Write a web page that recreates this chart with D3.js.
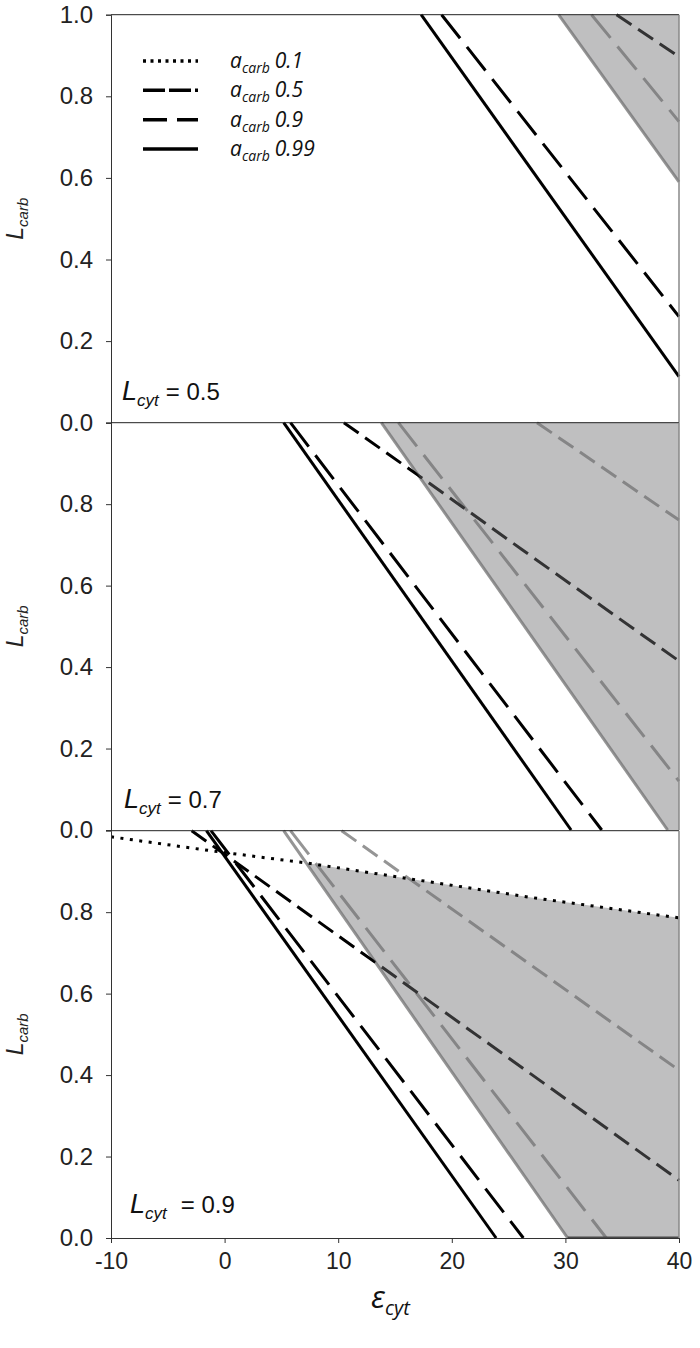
<!DOCTYPE html>
<html><head><meta charset="utf-8">
<script src="https://cdn.jsdelivr.net/npm/d3@7"></script>
<style>body{margin:0;background:#fff} svg{display:block}</style>
</head><body>
<svg id="c" width="700" height="1348"></svg>
<script>
// ---------- data ----------
const xTicks = [-10, 0, 10, 20, 30, 40];
const yTicksTop = [0, 0.2, 0.4, 0.6, 0.8, 1.0];
const yTicksLower = [0, 0.2, 0.4, 0.6, 0.8];
const lcytLabels = ["0.5", "0.7", "0.9"];
const legendLabels = ["0.1", "0.5", "0.9", "0.99"];

// Lcyt = 0.5
const p1Black099 = [[17.3, 1], [40, 0.113]];
const p1Black09  = [[19.1, 1], [40, 0.26]];
const p1Black05  = [[34.5, 1], [40, 0.897]];
const p1Gray099  = [[29.4, 1], [40, 0.59]];
const p1Gray09   = [[32.3, 1], [40, 0.738]];
const p1Shade    = [[29.4, 1], [40, 1], [40, 0.59]];

// Lcyt = 0.7
const p2Black099 = [[5.2, 1], [30.5, 0]];
const p2Black09  = [[5.8, 1], [33.2, 0]];
const p2Black05  = [[10.5, 1], [18, 0.852], [26.2, 0.688], [40, 0.415]];
const p2Gray099  = [[13.8, 1], [39.0, 0]];
const p2Gray09   = [[15.3, 1], [40, 0.12]];
const p2Gray05   = [[27.5, 1], [40, 0.761]];
const p2Shade    = [[13.8, 1], [40, 1], [40, 0], [39.0, 0]];

// Lcyt = 0.9
const p3Black01  = [[-10, 0.985], [-1, 0.95], [7.4, 0.92], [27, 0.836], [40, 0.786]];
const p3Black099 = [[-1.6, 1], [23.9, 0]];
const p3Black09  = [[-1.2, 1], [26.3, 0]];
const p3Black05  = [[-2.9, 1], [40, 0.142]];
const p3Gray099  = [[5.2, 1], [30.2, 0]];
const p3Gray09   = [[5.8, 1], [33.6, 0]];
const p3Gray05   = [[10.3, 1], [40, 0.412]];
const p3Shade    = [[7.2, 0.921], [27, 0.836], [40, 0.786], [40, 0], [30.2, 0]];
const p3Floor    = [[30.2, 0], [40, 0]];

// ---------- styles ----------
const dash = {s01: "3,6.5", s05: "18,8", s09: "30,11", s099: null};
const legendDash = {s01: "3,4.5", s05: "22,4", s09: "24,10", s099: null};
const BLACK = "#000", GRAY = "#959595";
const SANS = "'Liberation Sans', Arial, sans-serif";

const panels = [
  {label: lcytLabels[0], top: 14.7, bottom: 422.7, yTicks: yTicksTop,
   lines: [[p1Gray099, GRAY, "s099"], [p1Gray09, GRAY, "s09"],
           [p1Black099, BLACK, "s099"], [p1Black09, BLACK, "s09"], [p1Black05, BLACK, "s05"]],
   shade: p1Shade, over: [], lx: 122, ly: 400},
  {label: lcytLabels[1], top: 422.7, bottom: 830, yTicks: yTicksLower,
   lines: [[p2Gray099, GRAY, "s099"], [p2Gray09, GRAY, "s09"], [p2Gray05, GRAY, "s05"],
           [p2Black099, BLACK, "s099"], [p2Black09, BLACK, "s09"], [p2Black05, BLACK, "s05"]],
   shade: p2Shade, over: [], lx: 124, ly: 808},
  {label: lcytLabels[2], top: 830.7, bottom: 1238, yTicks: yTicksLower,
   lines: [[p3Gray099, GRAY, "s099"], [p3Gray09, GRAY, "s09"], [p3Gray05, GRAY, "s05"],
           [p3Black099, BLACK, "s099"], [p3Black09, BLACK, "s09"], [p3Black05, BLACK, "s05"]],
   shade: p3Shade, over: [[p3Black01, BLACK, "s01"], [p3Floor, "#4a4a4a", "floor"]], lx: 130, ly: 1213}
];

const svg = d3.select("#c");
const x = d3.scaleLinear().domain([-10, 40]).range([111, 679]);
const AX = 111, RX = 679;

panels.forEach((p, i) => {
  const y = d3.scaleLinear().domain([0, 1]).range([p.bottom, p.top]);
  const g = svg.append("g");
  const line = d3.line().x(d => x(d[0])).y(d => y(d[1]));
  const clipId = "clip" + i;
  svg.append("clipPath").attr("id", clipId).append("rect")
    .attr("x", AX).attr("y", p.top - 2).attr("width", RX - AX + 2).attr("height", p.bottom - p.top + 3);
  const inner = g.append("g").attr("clip-path", `url(#${clipId})`);

  p.lines.forEach(([data, col, st]) => {
    inner.append("path").attr("d", line(data)).attr("fill", "none")
      .attr("stroke", col).attr("stroke-width", 3)
      .attr("stroke-dasharray", dash[st]);
  });
  inner.append("path").attr("d", line(p.shade) + "Z")
    .attr("fill", "rgb(114,114,116)").attr("fill-opacity", 0.45);
  p.over.forEach(([data, col, st]) => {
    inner.append("path").attr("d", line(data)).attr("fill", "none")
      .attr("stroke", col).attr("stroke-width", 3)
      .attr("stroke-dasharray", st === "floor" ? null : dash[st]);
  });

  // frame
  g.append("line").attr("x1", AX).attr("x2", RX).attr("y1", p.top).attr("y2", p.top)
    .attr("stroke", "#222").attr("stroke-width", 1);
  g.append("line").attr("x1", RX).attr("x2", RX).attr("y1", p.top).attr("y2", p.bottom)
    .attr("stroke", "#888").attr("stroke-width", 1.5);

  // y axis
  const yAxis = d3.axisLeft(y).tickValues(p.yTicks).tickFormat(d3.format(".1f")).tickSize(5).tickPadding(13);
  const ya = g.append("g").attr("transform", `translate(${AX},0)`).call(yAxis);
  ya.select(".domain").attr("stroke", "#333");
  ya.selectAll(".tick line").attr("stroke", "#333");
  ya.selectAll(".tick text").attr("font-family", SANS)
    .attr("font-size", 24).attr("fill", "#222");

  // y title
  const yt = g.append("text")
    .attr("transform", `translate(23,${(p.top + p.bottom) / 2}) rotate(-90)`)
    .attr("text-anchor", "middle")
    .attr("font-family", SANS).attr("font-style", "italic").attr("fill", "#222");
  yt.append("tspan").attr("font-size", 23).text("L");
  yt.append("tspan").attr("font-size", 15).attr("dy", 5).text("carb");

  // panel label
  const pl = g.append("text").attr("x", p.lx).attr("y", p.ly)
    .attr("font-family", SANS).attr("fill", "#111");
  pl.append("tspan").attr("font-size", 27).attr("font-style", "italic").text("L");
  pl.append("tspan").attr("font-size", 17).attr("font-style", "italic").attr("dy", 6).text("cyt");
  pl.append("tspan").attr("font-size", 24).attr("dy", -6).attr("dx", i === 2 ? 14 : 7).text("= " + p.label);

  if (i === 2) {
    const xAxis = d3.axisBottom(x).tickValues(xTicks).tickSize(5).tickPadding(10)
      .tickFormat(d => String(d));
    const xa = g.append("g").attr("transform", `translate(0,${p.bottom})`).call(xAxis);
    xa.select(".domain").attr("stroke", "#333");
    xa.selectAll(".tick line").attr("stroke", "#333");
    xa.selectAll(".tick text").attr("font-family", SANS)
      .attr("font-size", 23).attr("fill", "#222");
  }
});

// legend
const legendStyles = ["s01", "s05", "s09", "s099"];
const legendY = d3.scalePoint().domain(legendLabels).range([61, 149]);
legendLabels.forEach((lab, k) => {
  const yy = legendY(lab);
  svg.append("line").attr("x1", 143).attr("x2", 198).attr("y1", yy).attr("y2", yy)
    .attr("stroke", BLACK).attr("stroke-width", 3.5)
    .attr("stroke-dasharray", legendDash[legendStyles[k]]);
  const t = svg.append("text").attr("x", 230).attr("y", yy + 7)
    .attr("font-family", "'Open Sans', sans-serif").attr("font-style", "italic").attr("fill", "#111");
  t.append("tspan").attr("font-size", 21).text("a");
  t.append("tspan").attr("font-size", 14).attr("dy", 5).text("carb");
  t.append("tspan").attr("font-size", 21).attr("dy", -5).attr("dx", 5).text(lab);
});

// x title
const xt = svg.append("text").attr("x", 371).attr("y", 1308)
  .attr("font-family", "'Open Sans', sans-serif").attr("font-style", "italic").attr("fill", "#111");
xt.append("tspan").attr("font-size", 31).text("ε");
xt.append("tspan").attr("font-size", 20).attr("dy", 7).text("cyt");
</script>
</body></html>
